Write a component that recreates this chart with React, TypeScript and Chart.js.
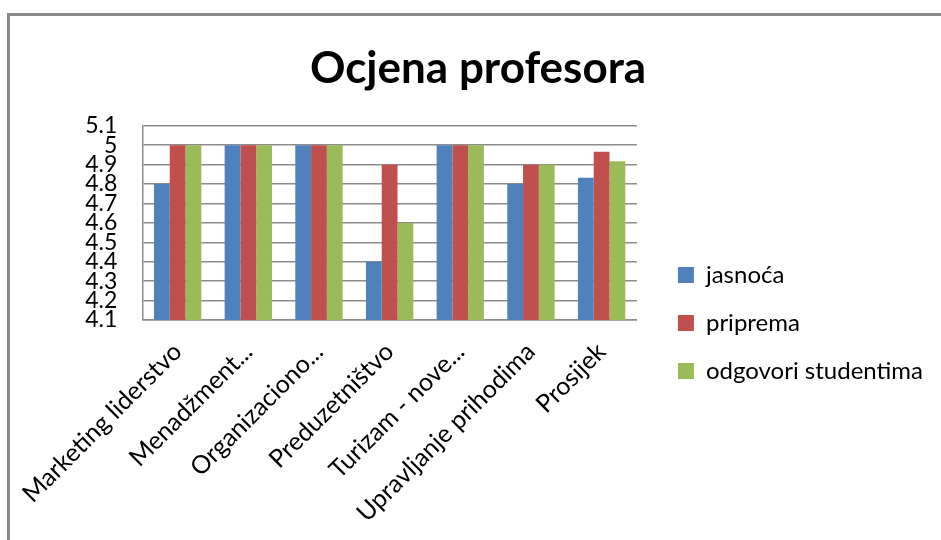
import React, { useEffect, useRef } from "react";
import { Chart, registerables } from "chart.js";

Chart.register(...registerables);

const categories = [
  "Marketing liderstvo",
  "Menadžment...",
  "Organizaciono...",
  "Preduzetništvo",
  "Turizam - nove...",
  "Upravljanje prihodima",
  "Prosijek",
];
const jasnoca = [4.8, 5, 5, 4.4, 5, 4.8, 4.833];
const priprema = [5, 5, 5, 4.9, 5, 4.9, 4.967];
const odgovori = [5, 5, 5, 4.6, 5, 4.9, 4.917];
const seriesNames = ["jasnoća", "priprema", "odgovori studentima"];
const seriesColors = ["#4F81BD", "#C0504D", "#9BBB59"];
const yMin = 4.1;
const yMax = 5.1;
const yStep = 0.1;
const titleText = "Ocjena profesora";

const FONT = "Lato, 'Open Sans', sans-serif";

const legendShift = {
  id: "legendShift",
  afterLayout(chart: any) {
    const lg = chart.legend;
    if (lg) {
      lg.top += 38;
      lg.bottom += 38;
    }
  },
};

export default function App() {
  const canvasRef = useRef<HTMLCanvasElement | null>(null);

  useEffect(() => {
    const canvas = canvasRef.current;
    if (!canvas) return;
    const chart = new Chart(canvas, {
      type: "bar",
      data: {
        labels: categories,
        datasets: [jasnoca, priprema, odgovori].map((d, i) => ({
          label: seriesNames[i],
          data: d,
          backgroundColor: seriesColors[i],
          borderWidth: 0,
          categoryPercentage: 0.67,
          barPercentage: 1,
        })),
      },
      plugins: [legendShift],
      options: {
        responsive: false,
        animation: false,
        layout: { padding: { top: 30, left: 23, right: 8, bottom: 0 } },
        plugins: {
          title: {
            display: true,
            text: titleText,
            color: "#000",
            font: { family: FONT, size: 44, weight: "bold" },
            padding: { top: 12, bottom: 31 },
          },
          legend: {
            position: "right",
            align: "center",
            maxWidth: 400,
            labels: {
              color: "#000",
              font: { family: FONT, size: 24 },
              boxWidth: 16,
              boxHeight: 16,
              padding: 24,
            },
          },
          tooltip: { enabled: false },
        },
        scales: {
          x: {
            grid: { display: false, drawTicks: false },
            border: { display: true, color: "#8c8c8c", width: 1.5 },
            ticks: {
              color: "#000",
              font: { family: FONT, size: 25 },
              minRotation: 45,
              maxRotation: 45,
              autoSkip: false,
              padding: 17,
            },
            afterFit: (scale: any) => {
              scale.height = 220;
            },
          },
          y: {
            min: yMin,
            max: yMax,
            grid: { color: "#8c8c8c", lineWidth: 1.5, drawTicks: false },
            border: { display: true, color: "#8c8c8c", width: 1.5 },
            ticks: {
              stepSize: yStep,
              autoSkip: false,
              color: "#000",
              font: { family: FONT, size: 23 },
              padding: 25,
              callback: (v: any) => String(Number(Number(v).toFixed(1))),
            },
            afterFit: (scale: any) => {
              scale.width = 119;
            },
          },
          gap: {
            type: "linear",
            position: "right",
            display: true,
            grid: { display: false, drawTicks: false },
            border: { display: false },
            ticks: { display: false },
            afterFit: (scale: any) => {
              scale.width = 17;
            },
          },
        },
      },
    });
    return () => chart.destroy();
  }, []);

  return (
    <div style={{ position: "absolute", left: 0, top: 0, width: 941, height: 540, overflow: "hidden", background: "#fff" }}>
      <div
        style={{
          position: "absolute",
          left: 7,
          top: 13,
          width: 1000,
          height: 600,
          borderLeft: "3px solid #8a8a8a",
          borderTop: "3px solid #8a8a8a",
        }}
      />
      <canvas ref={canvasRef} width={941} height={540} style={{ position: "absolute", left: 0, top: 0 }} />
    </div>
  );
}
